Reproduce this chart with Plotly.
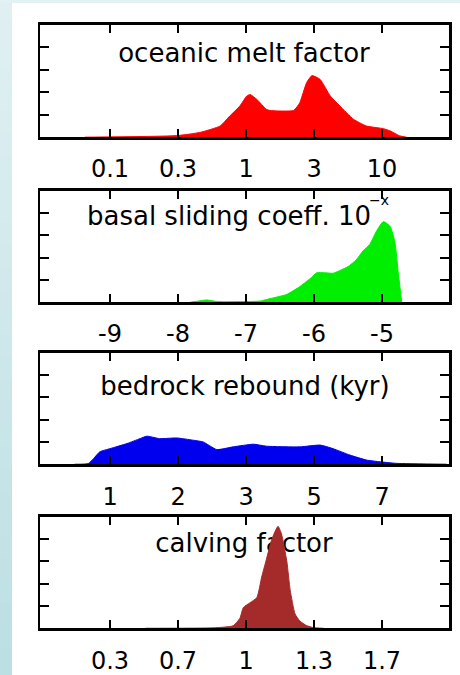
import plotly.graph_objects as go

# ---------------- data (x in axis index units, y in density units 0..5) -------------
melt_ticks = ["0.1", "0.3", "1", "3", "10"]
melt_x = [0.63, 1.98, 2.32, 2.62, 2.76, 2.91, 3.01, 3.06, 3.16, 3.30, 3.35, 3.70, 3.79,
          3.89, 3.97, 4.09, 4.24, 4.38, 4.58, 4.77, 5.02, 5.12, 5.26, 5.36]
melt_y = [0.0, 0.07, 0.21, 0.50, 0.94, 1.39, 1.83, 1.90, 1.68, 1.24, 1.19, 1.19, 1.53,
          2.42, 2.74, 2.57, 1.83, 1.39, 0.80, 0.50, 0.38, 0.28, 0.06, 0.0]

sliding_ticks = ["-9", "-8", "-7", "-6", "-5"]
sliding_x = [2.18, 2.30, 2.42, 2.57, 2.70, 3.21, 3.30, 3.41, 3.60, 3.79, 3.94, 4.04, 4.16,
             4.28, 4.40, 4.50, 4.62, 4.72, 4.82, 4.92, 5.02, 5.12, 5.19, 5.24, 5.29]
sliding_y = [0.0, 0.05, 0.10, 0.03, 0.02, 0.05, 0.12, 0.20, 0.35, 0.70, 1.05, 1.32, 1.32,
             1.30, 1.45, 1.60, 1.90, 2.30, 2.60, 3.20, 3.62, 3.40, 2.70, 1.30, 0.0]

rebound_ticks = ["1", "2", "3", "5", "7"]
rebound_x = [0.48, 0.68, 0.76, 0.85, 1.00, 1.25, 1.44, 1.54, 1.73, 1.98, 2.22, 2.37, 2.57,
             2.81, 3.11, 3.30, 3.79, 4.09, 4.28, 4.53, 4.77, 4.97, 5.21, 5.95]
rebound_y = [0.0, 0.03, 0.26, 0.56, 0.70, 0.93, 1.15, 1.26, 1.15, 1.18, 1.08, 1.00, 0.66,
             0.78, 0.90, 0.81, 0.78, 0.86, 0.70, 0.41, 0.19, 0.11, 0.04, 0.0]

calving_ticks = ["0.3", "0.7", "1", "1.3", "1.7"]
calving_x = [1.52, 2.52, 2.81, 2.91, 2.96, 3.06, 3.16, 3.23, 3.30, 3.38, 3.47, 3.52, 3.60,
             3.65, 3.72, 3.79, 3.89, 3.99, 4.14]
calving_y = [0.0, 0.02, 0.11, 0.45, 0.93, 1.15, 1.38, 2.30, 3.10, 4.00, 4.58, 4.25, 3.00,
             1.70, 0.65, 0.33, 0.12, 0.03, 0.0]

titles = ["oceanic melt factor", "basal sliding coeff. 10", "bedrock rebound (kyr)", "calving factor"]
title_x = [2.97, 2.75, 2.985, 2.97]
title_y = [3.62, 3.75, 3.40, 3.72]
colors = ["#ff0000", "#00ee00", "#0000ee", "#a52a2a"]

panels = [
    (melt_x, melt_y, melt_ticks),
    (sliding_x, sliding_y, sliding_ticks),
    (rebound_x, rebound_y, rebound_ticks),
    (calving_x, calving_y, calving_ticks),
]

W, H = 460, 675
# panel boxes in pixels (top, bottom)
boxes = [(25, 138), (192, 304), (355, 467), (520, 632)]
xdom = [40 / W, 449 / W]

FONT = "DejaVu Sans"
fig = go.Figure()
layout = dict(
    width=W, height=H, margin=dict(l=0, r=0, t=0, b=0, pad=0),
    paper_bgcolor="white", plot_bgcolor="rgba(0,0,0,0)", showlegend=False,
)

for i, ((xs, ys, tt), title, tx, ty, col, (bt, bb)) in enumerate(
        zip(panels, titles, title_x, title_y, colors, boxes), start=1):
    xa = "x" if i == 1 else f"x{i}"
    ya = "y" if i == 1 else f"y{i}"
    fig.add_trace(go.Scatter(
        x=[tx], y=[ty], mode="text", text=[title], textposition="middle center",
        textfont=dict(family=FONT, size=26, color="black"),
        hoverinfo="skip", cliponaxis=False, xaxis=xa, yaxis=ya))
    fig.add_trace(go.Scatter(
        x=xs, y=ys, mode="lines", fill="tozeroy", fillcolor=col,
        line=dict(color=col, width=1, shape="spline", smoothing=0.5),
        hoverinfo="skip", xaxis=xa, yaxis=ya))
    layout["xaxis" if i == 1 else f"xaxis{i}"] = dict(
        domain=xdom, range=[-0.03, 5.985], anchor=ya,
        tickvals=[1, 2, 3, 4, 5], ticktext=tt,
        ticks="inside", ticklen=8, tickwidth=2, tickcolor="black",
        showline=True, linecolor="black", linewidth=2.5, mirror="ticks",
        showgrid=False, zeroline=False, ticklabelstandoff=9,
        tickfont=dict(family=FONT, size=24, color="black"), fixedrange=True)
    layout["yaxis" if i == 1 else f"yaxis{i}"] = dict(
        domain=[1 - bb / H, 1 - bt / H], range=[0, 5], anchor=xa,
        tickvals=[1, 2, 3, 4], showticklabels=False,
        ticks="inside", ticklen=9, tickwidth=2, tickcolor="black",
        showline=True, linecolor="black", linewidth=2.5, mirror="ticks",
        showgrid=False, zeroline=False, fixedrange=True)

# background decoration: left gradient strip and thin top strip
shapes = []
nb = 30
c0 = (0xE0, 0xF0, 0xF2)
c1 = (0xBC, 0xDF, 0xE3)
for k in range(nb):
    t = k / (nb - 1)
    c = tuple(round(a + (b - a) * t) for a, b in zip(c0, c1))
    y0 = 1 - (k + 1) / nb if k < nb - 1 else -0.05
    shapes.append(dict(type="rect", xref="paper", yref="paper", layer="below",
                       x0=-0.01, x1=12 / W, y0=y0, y1=1 - k / nb + 0.002,
                       fillcolor="rgb(%d,%d,%d)" % c, line=dict(width=0)))
shapes.append(dict(type="rect", xref="paper", yref="paper", layer="below",
                   x0=-0.01, x1=1.01, y0=1 - 3 / H, y1=1.01, fillcolor="#e2f1f3",
                   line=dict(width=0)))
layout["shapes"] = shapes
layout["annotations"] = [dict(
    text="\u2212x", xref="paper", yref="paper", x=379 / W, y=1 - 201 / H,
    showarrow=False, font=dict(family=FONT, size=14, color="black"),
    xanchor="center", yanchor="middle")]

fig.update_layout(**layout)
fig.write_html(
    "out.html",
    config={"displayModeBar": False, "staticPlot": True},
    post_script="document.body.style.margin='0';document.body.style.overflow='hidden';")
